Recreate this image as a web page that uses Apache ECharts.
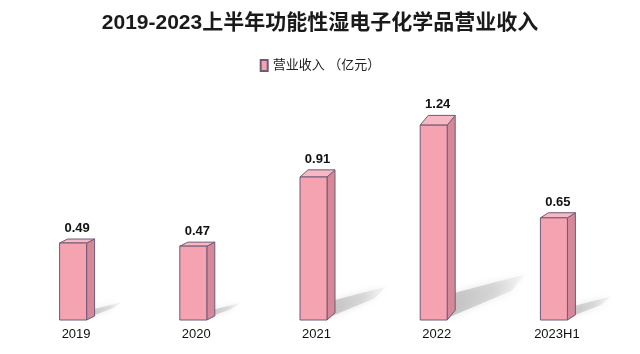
<!DOCTYPE html>
<html>
<head>
<meta charset="utf-8">
<script src="https://cdn.jsdelivr.net/npm/echarts@6/dist/echarts.min.js"></script>
<style>
  html, body { margin: 0; padding: 0; background: #fff; }
  #chart { width: 640px; height: 354px; }
</style>
</head>
<body>
<div id="chart"></div>
<script>
const categories = ['2019', '2020', '2021', '2022', '2023H1']
const revenue = [0.49, 0.47, 0.91, 1.24, 0.65]
const seriesName = '营业收入 （亿元）'

const FONT = '"Liberation Sans", "Noto Sans CJK SC", sans-serif'
const front = '#f5a3b1'
const side = '#d48898'
const topFace = '#f7b8c3'
const edge = '#6f5b78'

// draws one pseudo-3D bar with a floor shadow
function renderBar(params, api) {
  const idx = api.value(0)
  const val = api.value(1)
  const p = api.coord([idx, val])
  const b = api.coord([idx, 0])
  const w = 27
  const dx = 8
  const h = b[1] - p[1]
  const dy = Math.max(4, h * 0.05)
  const xl = p[0] - w / 2 - 3
  const xr = xl + w
  const yt = p[1]
  const yb = b[1]
  return {
    type: 'group',
    children: [
      {
        type: 'polygon',
        shape: { points: [
          [xr, yb - 2], [xr + dx, yb - dy - h * 0.09],
          [xr + dx + h * 0.36, yb - h * 0.235],
          [xr + h * 0.33, yb - h * 0.15]
        ] },
        style: {
          fill: new echarts.graphic.LinearGradient(0, 0, 1, 0, [
            { offset: 0, color: 'rgba(175,175,175,0.7)' },
            { offset: 0.6, color: 'rgba(195,195,195,0.55)' },
            { offset: 1, color: 'rgba(215,215,215,0.15)' }
          ]),
          shadowBlur: 7,
          shadowColor: 'rgba(180,180,180,0.5)'
        },
        z2: 0
      },
      {
        type: 'polygon',
        shape: { points: [[xr, yt], [xr + dx, yt - dy], [xr + dx, yb - dy], [xr, yb]] },
        style: { fill: side, stroke: edge, lineWidth: 1 },
        z2: 1
      },
      {
        type: 'polygon',
        shape: { points: [[xl, yt], [xl + dx, yt - dy], [xr + dx, yt - dy], [xr, yt]] },
        style: { fill: topFace, stroke: edge, lineWidth: 1 },
        z2: 1
      },
      {
        type: 'rect',
        shape: { x: xl, y: yt, width: w, height: yb - yt },
        style: { fill: front, stroke: edge, lineWidth: 1 },
        z2: 2
      },
      {
        type: 'text',
        x: (xl + xr + dx) / 2,
        y: yt - dy - 4,
        style: {
          text: val.toFixed(2),
          font: 'bold 13px ' + FONT,
          fill: '#111',
          align: 'center',
          verticalAlign: 'bottom'
        },
        z2: 3
      }
    ]
  }
}

const chart = echarts.init(document.getElementById('chart'))
chart.setOption({
  animation: false,
  title: {
    text: '2019-2023上半年功能性湿电子化学品营业收入',
    left: 'center',
    top: 8,
    textStyle: { fontFamily: FONT, fontSize: 21, fontWeight: 'bold', color: '#1a1a1a' }
  },
  legend: {
    data: [seriesName],
    top: 54,
    left: 'center',
    icon: 'rect',
    itemWidth: 7,
    itemHeight: 11,
    itemGap: 5,
    textStyle: { fontFamily: FONT, fontSize: 13, color: '#222' }
  },
  grid: { left: 16, right: 23, top: 100, bottom: 34 },
  xAxis: {
    type: 'category',
    data: categories,
    axisLine: { show: false },
    axisTick: { show: false },
    axisLabel: { margin: 8, fontFamily: FONT, fontSize: 13, color: '#111' }
  },
  yAxis: {
    type: 'value',
    min: 0,
    max: 1.4,
    show: false,
    splitLine: { show: false }
  },
  series: [{
    name: seriesName,
    type: 'custom',
    renderItem: renderBar,
    itemStyle: { color: front, borderColor: edge, borderWidth: 1 },
    encode: { x: 0, y: 1 },
    data: revenue.map((v, i) => [i, v])
  }]
})
</script>
</body>
</html>
